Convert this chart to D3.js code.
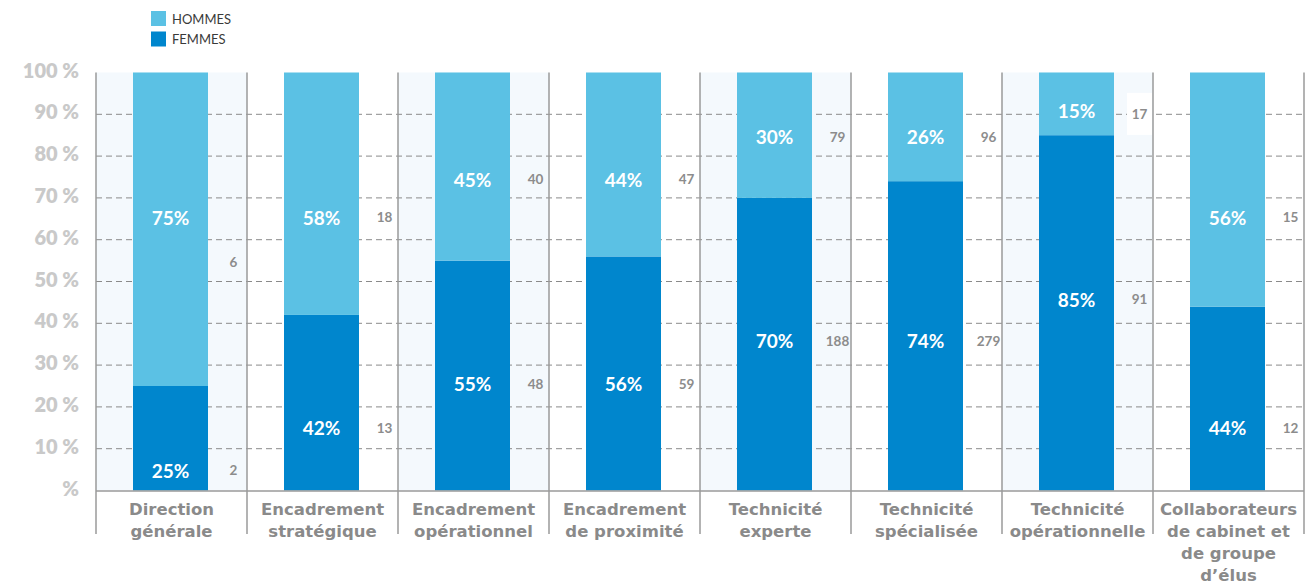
<!DOCTYPE html>
<html lang="fr">
<head>
<meta charset="utf-8">
<script src="https://cdn.jsdelivr.net/npm/d3@7"></script>
<style>
  html, body { margin: 0; padding: 0; background: #ffffff; }
  svg { display: block; font-family: "Lato", "DejaVu Sans", sans-serif; }
</style>
</head>
<body>
<svg id="chart" width="1305" height="585"></svg>
<script>
// Répartition femmes / hommes par catégorie d'emploi
const categories = [
  "Direction générale",
  "Encadrement stratégique",
  "Encadrement opérationnel",
  "Encadrement de proximité",
  "Technicité experte",
  "Technicité spécialisée",
  "Technicité opérationnelle",
  "Collaborateurs de cabinet et de groupe d’élus"
];
const categoryLines = [
  ["Direction", "générale"],
  ["Encadrement", "stratégique"],
  ["Encadrement", "opérationnel"],
  ["Encadrement", "de proximité"],
  ["Technicité", "experte"],
  ["Technicité", "spécialisée"],
  ["Technicité", "opérationnelle"],
  ["Collaborateurs", "de cabinet et", "de groupe", "d’élus"]
];
const hommesPct   = [75, 58, 45, 44, 30, 26, 15, 56];
const femmesPct   = [25, 42, 55, 56, 70, 74, 85, 44];
const hommesCount = [6, 18, 40, 47, 79, 96, 17, 15];
const femmesCount = [2, 13, 48, 59, 188, 279, 91, 12];
const yTicks = [0, 10, 20, 30, 40, 50, 60, 70, 80, 90, 100];
const yTickLabels = ["%", "10 %", "20 %", "30 %", "40 %", "50 %", "60 %", "70 %", "80 %", "90 %", "100 %"];
const seriesNames = ["HOMMES", "FEMMES"];

// Hauteurs (en %) auxquelles les étiquettes sont posées
const hommesLabelAt      = [65.4, 65.4, 74.5, 74.5, 84.6, 84.6, 91.0, 65.4];
const hommesCountLabelAt = [54.7, 65.4, 74.5, 74.5, 84.6, 84.6, 90.1, 65.4];
const femmesLabelAt      = [4.9, 15.0, 25.5, 25.5, 35.8, 35.8, 45.8, 15.0];

const colors = { hommes: "#5bc1e4", femmes: "#0086cd" };

const svg = d3.select("#chart");

const x = d3.scaleBand().domain(categories).range([96, 1304]).padding(0);
const y = d3.scaleLinear().domain([0, 100]).range([490.5, 72.5]);
const barW = 75, barOff = 37;

// Fonds alternés des colonnes
svg.append("g").selectAll("rect")
  .data(categories)
  .join("rect")
  .attr("x", d => x(d))
  .attr("y", y(100))
  .attr("width", x.bandwidth())
  .attr("height", y(0) - y(100))
  .attr("fill", (d, i) => i % 2 === 0 ? "#f4f9fd" : "#ffffff");

// Grille horizontale en pointillés
svg.append("g").selectAll("line")
  .data(yTicks.filter(t => t > 0 && t < 100))
  .join("line")
  .attr("x1", 96).attr("x2", 1304)
  .attr("y1", d => y(d)).attr("y2", d => y(d))
  .attr("stroke", "#8a8a8a")
  .attr("stroke-width", 1)
  .attr("stroke-dasharray", "6,4");

// Graduations de l'axe vertical
svg.append("g").selectAll("text")
  .data(yTicks)
  .join("text")
  .attr("x", 79)
  .attr("y", d => y(d) - 3)
  .attr("text-anchor", "end")
  .attr("dominant-baseline", "central")
  .attr("font-size", 20)
  .attr("font-weight", 800)
  .attr("fill", "#c9c9c9")
  .text((d, i) => yTickLabels[i]);

// Barres empilées
const rows = categories.map((c, i) => ({
  c, i, h: hommesPct[i], f: femmesPct[i], hc: hommesCount[i], fc: femmesCount[i]
}));
const bars = svg.append("g");
bars.selectAll("rect.femmes")
  .data(rows).join("rect").attr("class", "femmes")
  .attr("x", d => x(d.c) + barOff)
  .attr("y", d => y(d.f))
  .attr("width", barW)
  .attr("height", d => y(0) - y(d.f))
  .attr("fill", colors.femmes);
bars.selectAll("rect.hommes")
  .data(rows).join("rect").attr("class", "hommes")
  .attr("x", d => x(d.c) + barOff)
  .attr("y", d => y(d.f + d.h))
  .attr("width", barW)
  .attr("height", d => y(d.f) - y(d.f + d.h))
  .attr("fill", colors.hommes);

// Pourcentages dans les barres
const pctLabels = svg.append("g")
  .attr("text-anchor", "middle")
  .attr("dominant-baseline", "central")
  .attr("font-size", 19)
  .attr("font-weight", 700)
  .attr("fill", "#ffffff");
pctLabels.selectAll("text.h").data(rows).join("text").attr("class", "h")
  .attr("x", d => x(d.c) + barOff + barW / 2)
  .attr("y", d => y(hommesLabelAt[d.i]))
  .text(d => d.h + "%");
pctLabels.selectAll("text.f").data(rows).join("text").attr("class", "f")
  .attr("x", d => x(d.c) + barOff + barW / 2)
  .attr("y", d => y(femmesLabelAt[d.i]))
  .text(d => d.f + "%");

// Effectifs à droite des barres
const counts = svg.append("g");
const countItems = [];
rows.forEach(d => {
  countItems.push({ c: d.c, v: d.hc, at: hommesCountLabelAt[d.i] });
  countItems.push({ c: d.c, v: d.fc, at: femmesLabelAt[d.i] });
});
// Un cache blanc masque la grille lorsqu'une étiquette tombe dessus
counts.selectAll("rect")
  .data(countItems.filter(d => yTicks.some(t => t > 0 && t < 100 && Math.abs(y(t) - y(d.at)) < 5)))
  .join("rect")
  .attr("x", d => x(d.c) + barOff + barW + 13)
  .attr("y", d => y(d.at) - 21)
  .attr("width", 25)
  .attr("height", 42)
  .attr("fill", "#ffffff");
counts.selectAll("text")
  .data(countItems)
  .join("text")
  .attr("x", d => x(d.c) + barOff + barW + 25.5)
  .attr("y", d => y(d.at))
  .attr("text-anchor", "middle")
  .attr("dominant-baseline", "central")
  .attr("font-size", 13.5)
  .attr("font-weight", 700)
  .attr("fill", "#8c8c8c")
  .text(d => d.v);

// Séparateurs de colonnes et ligne de base
const sep = svg.append("g").attr("stroke", "#9a9a9a").attr("stroke-width", 1.5);
sep.selectAll("line.v")
  .data(categories.map(c => x(c)).concat([x(categories[categories.length - 1]) + x.bandwidth()]))
  .join("line").attr("class", "v")
  .attr("x1", d => d).attr("x2", d => d)
  .attr("y1", y(100)).attr("y2", 534);
sep.append("line")
  .attr("x1", 96).attr("x2", 1304)
  .attr("y1", y(0) + 0.5).attr("y2", y(0) + 0.5);

// Libellés des catégories
const catLabels = svg.append("g")
  .attr("text-anchor", "middle")
  .attr("font-family", "'DejaVu Sans', sans-serif")
  .attr("font-size", 16.5)
  .attr("font-weight", 700)
  .attr("fill", "#8a8a8a");
catLabels.selectAll("text")
  .data(categories)
  .join("text")
  .attr("x", d => x(d) + x.bandwidth() / 2)
  .attr("y", 515)
  .each(function (d, i) {
    d3.select(this).selectAll("tspan")
      .data(categoryLines[i])
      .join("tspan")
      .attr("x", x(d) + x.bandwidth() / 2)
      .attr("dy", (l, j) => j === 0 ? 0 : 22)
      .text(l => l);
  });

// Légende
const legend = svg.append("g");
const legendColors = [colors.hommes, colors.femmes];
legend.selectAll("rect")
  .data(seriesNames)
  .join("rect")
  .attr("x", 151)
  .attr("y", (d, i) => 11 + i * 20.5)
  .attr("width", 15)
  .attr("height", 15)
  .attr("fill", (d, i) => legendColors[i]);
legend.selectAll("text")
  .data(seriesNames)
  .join("text")
  .attr("x", 172)
  .attr("y", (d, i) => 23.5 + i * 20.5)
  .attr("font-size", 13)
  .attr("fill", "#3a3a3a")
  .text(d => d);
</script>
</body>
</html>
